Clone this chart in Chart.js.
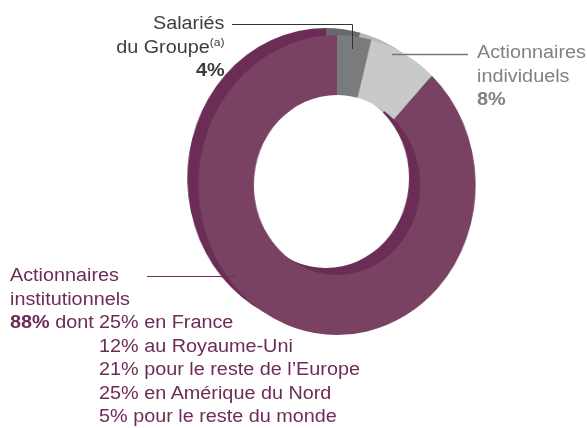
<!DOCTYPE html>
<html lang="fr">
<head>
<meta charset="utf-8">
<title>Répartition de l'actionnariat</title>
<script src="https://cdn.jsdelivr.net/npm/chart.js@4.4.1/dist/chart.umd.min.js"></script>
<style>
  body { margin: 0; background: #fff; width: 587px; height: 428px; overflow: hidden; position: relative;
         font-family: "Liberation Sans", Arial, sans-serif; font-size: 18px; }
  #ring { position: absolute; left: 167px; top: 15px; width: 340px; height: 340px;
          transform: scaleX(0.924); transform-origin: 170px 170px; }
  .lbl { position: absolute; line-height: 23.5px; white-space: nowrap; transform: scaleX(1.1); transform-origin: left top; }
  .lbl b { font-weight: bold; }
  sup { font-size: 11px; vertical-align: 7px; line-height: 0; }
  #salaries { right: 362px; top: 12px; text-align: right; color: #3d3d3d; transform-origin: right top; }
  #indiv { left: 477px; top: 41px; color: #808182; }
  #instit { left: 10px; top: 264px; color: #6d2c57; }
  #leaders { position: absolute; left: 0; top: 0; }
</style>
</head>
<body>

<div id="ring"><canvas id="chart" width="340" height="340"></canvas></div>

<div class="lbl" id="salaries"></div>
<div class="lbl" id="indiv"></div>
<div class="lbl" id="instit"></div>

<svg id="leaders" width="587" height="428">
  <polyline points="232,24.5 352.5,24.5 352.5,49" fill="none" stroke="#333" stroke-width="1"/>
  <line x1="392" y1="54.5" x2="468" y2="54.5" stroke="#777" stroke-width="1.3"/>
  <line x1="147" y1="276.5" x2="236" y2="276.5" stroke="#6d2c57" stroke-width="1"/>
</svg>

<script>
// Répartition du capital (%)
var categories = ['Salariés du Groupe', 'Actionnaires individuels', 'Actionnaires institutionnels'];
var shares = [4, 8, 88];

// détail des institutionnels (%)
var institRegions = ['en France', 'au Royaume-Uni', 'pour le reste de l\u2019Europe', 'en Amérique du Nord', 'pour le reste du monde'];
var institShares = [25, 12, 21, 25, 5];

var frontColors = ['#7a7b7c', '#c8c9cb', '#7a4262'];
var shadowColors = ['#676869', '#b6b7b9', '#6b2d55'];

// labels
$ = function(id) { return document.getElementById(id); };
$('salaries').innerHTML = 'Salariés<br>du Groupe<sup>(a)</sup><br><b>' + shares[0] + '%</b>';
$('indiv').innerHTML = 'Actionnaires<br>individuels<br><b>' + shares[1] + '%</b>';

var html = 'Actionnaires<br>institutionnels<br>';
for (var i = 0; i < institShares.length; i++) {
    var lead = i == 0
        ? '<span style="display:inline-block;width:81px"><b>' + shares[2] + '%</b> dont</span>'
        : '<span style="display:inline-block;width:81px"></span>';
    html += lead + institShares[i] + '% ' + institRegions[i] + (i < institShares.length - 1 ? '<br>' : '');
}
$('instit').innerHTML = html;

// darker copy of the ring, shifted up-left, for the fake 3D edge
var shadowRing = {
    id: 'shadowRing',
    beforeDatasetsDraw: function(chart) {
        var ctx = chart.ctx;
        var arcs = chart.getDatasetMeta(0).data;
        ctx.save();
        ctx.translate(-12, -7);
        arcs.forEach(function(arc, i) {
            var p = arc.getProps(['x', 'y', 'startAngle', 'endAngle', 'innerRadius', 'outerRadius']);
            ctx.beginPath();
            ctx.arc(p.x, p.y, p.outerRadius, p.startAngle, p.endAngle);
            ctx.arc(p.x, p.y, p.innerRadius, p.endAngle, p.startAngle, true);
            ctx.closePath();
            ctx.fillStyle = shadowColors[i];
            ctx.fill();
        });
        ctx.restore();
    }
};

var ctx = document.getElementById('chart').getContext('2d');
var myChart = new Chart(ctx, {
    type: 'doughnut',
    data: {
        labels: categories,
        datasets: [{
            data: shares,
            backgroundColor: frontColors,
            borderWidth: 0,
            hoverOffset: 0,
            offset: 0
        }]
    },
    options: {
        responsive: false,
        animation: false,
        radius: 150,
        cutout: '60%',
        rotation: 0,
        layout: { padding: 0 },
        events: [],
        plugins: {
            legend: { display: false },
            tooltip: { enabled: false }
        }
    },
    plugins: [shadowRing]
});
</script>

</body>
</html>
